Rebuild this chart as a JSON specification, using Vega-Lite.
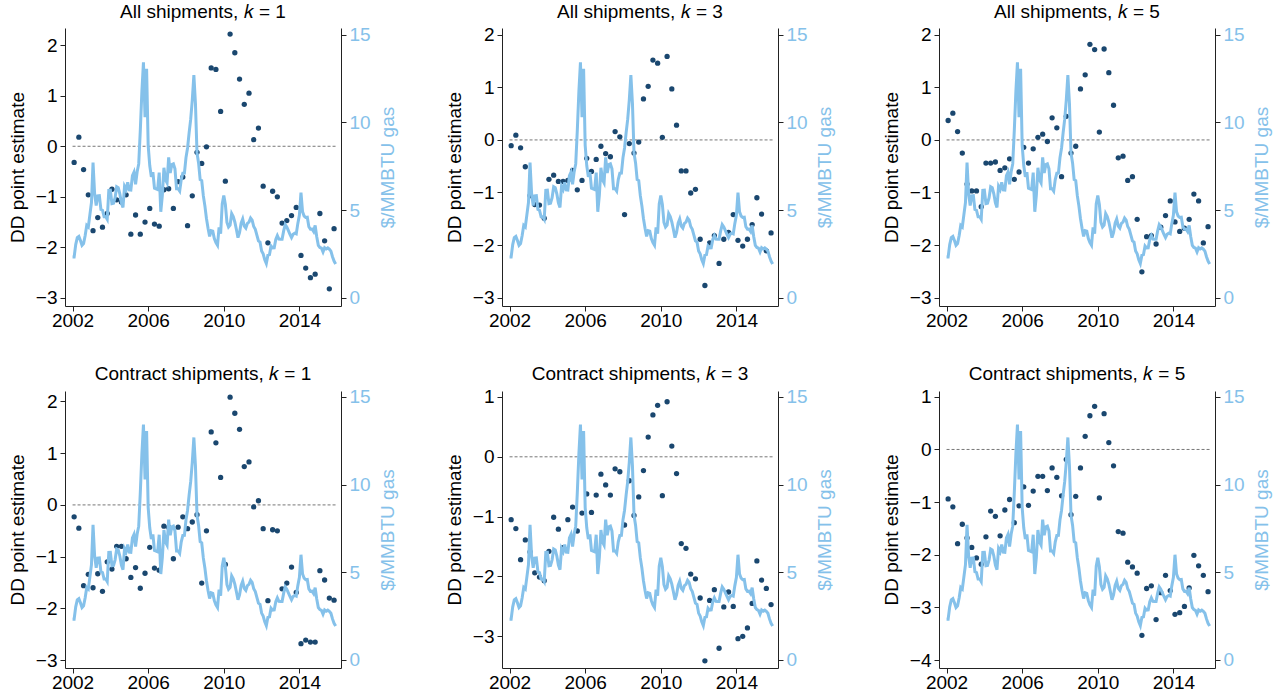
{
  "$schema": "https://vega.github.io/schema/vega-lite/v6.json",
  "padding": {"left": 8, "top": 2, "right": 5, "bottom": 5},
  "background": "white",
  "datasets": {
    "pts": [
      {"t":2002.083,"a1":-0.32,"a2":-0.11,"a3":0.37,"a4":-0.23,"a5":-1.05,"a6":-0.94},
      {"t":2002.333,"a1":0.18,"a2":0.09,"a3":0.51,"a4":-0.45,"a5":-1.20,"a6":-1.09},
      {"t":2002.583,"a1":-0.46,"a2":-0.15,"a3":0.16,"a4":-1.56,"a5":-1.72,"a6":-1.79},
      {"t":2002.833,"a1":-0.96,"a2":-0.51,"a3":-0.25,"a4":-1.34,"a5":-1.39,"a6":-1.42},
      {"t":2003.083,"a1":-1.67,"a2":-1.06,"a3":-0.84,"a4":-1.60,"a5":-1.59,"a6":-1.68},
      {"t":2003.333,"a1":-1.41,"a2":-1.23,"a3":-0.97,"a4":-1.33,"a5":-1.94,"a6":-1.86},
      {"t":2003.583,"a1":-1.60,"a2":-1.24,"a3":-0.97,"a4":-1.67,"a5":-2.01,"a6":-2.06},
      {"t":2003.833,"a1":-1.33,"a2":-1.49,"a3":-1.27,"a4":-1.10,"a5":-2.07,"a6":-2.18},
      {"t":2004.083,"a1":-0.85,"a2":-0.75,"a3":-0.44,"a4":-1.24,"a5":-1.58,"a6":-1.66},
      {"t":2004.333,"a1":-1.06,"a2":-0.67,"a3":-0.44,"a4":-0.80,"a5":-1.01,"a6":-1.17},
      {"t":2004.583,"a1":-1.10,"a2":-0.79,"a3":-0.42,"a4":-0.80,"a5":-1.21,"a6":-1.27},
      {"t":2004.833,"a1":-0.96,"a2":-0.79,"a3":-0.58,"a4":-1.04,"a5":-1.52,"a6":-1.64},
      {"t":2005.083,"a1":-1.74,"a2":-0.77,"a3":-0.53,"a4":-1.40,"a5":-1.05,"a6":-1.15},
      {"t":2005.333,"a1":-1.36,"a2":-0.58,"a3":-0.36,"a4":-1.21,"a5":-0.84,"a6":-0.95},
      {"t":2005.583,"a1":-1.74,"a2":-0.95,"a3":-0.75,"a4":-1.61,"a5":-1.24,"a6":-1.39},
      {"t":2005.833,"a1":-1.50,"a2":-0.77,"a3":-0.61,"a4":-1.32,"a5":-0.94,"a6":-1.07},
      {"t":2006.083,"a1":-1.23,"a2":-0.35,"a3":-0.14,"a4":-0.82,"a5":-0.62,"a6":-0.71},
      {"t":2006.333,"a1":-1.54,"a2":-0.60,"a3":-0.44,"a4":-1.22,"a5":-0.93,"a6":-1.06},
      {"t":2006.583,"a1":-1.58,"a2":-0.37,"a3":-0.17,"a4":-1.26,"a5":-0.64,"a6":-0.79},
      {"t":2006.833,"a1":-0.86,"a2":-0.12,"a3":0.05,"a4":-0.41,"a5":-0.29,"a6":-0.51},
      {"t":2007.083,"a1":-0.84,"a2":-0.26,"a3":0.11,"a4":-0.43,"a5":-0.47,"a6":-0.51},
      {"t":2007.333,"a1":-1.23,"a2":-0.32,"a3":-0.03,"a4":-1.04,"a5":-0.64,"a6":-0.78},
      {"t":2007.583,"a1":-0.70,"a2":0.16,"a3":0.42,"a4":-0.43,"a5":-0.20,"a6":-0.35},
      {"t":2007.833,"a1":-0.61,"a2":0.06,"a3":0.23,"a4":-0.23,"a5":-0.25,"a6":-0.53},
      {"t":2008.083,"a1":-1.57,"a2":-1.42,"a3":-0.70,"a4":-0.46,"a5":-1.14,"a6":-0.88},
      {"t":2008.333,"a1":-0.98,"a2":-0.07,"a3":0.45,"a4":-0.33,"a5":-0.40,"a6":-0.19},
      {"t":2008.583,"a1":-0.12,"a2":-0.25,"a3":-0.25,"a4":-0.19,"a5":-0.98,"a6":-1.24},
      {"t":2008.833,"a1":-0.34,"a2":-0.04,"a3":-0.12,"a4":-1.51,"a5":-0.67,"a6":-0.89},
      {"t":2009.083,"a1":-0.01,"a2":0.78,"a3":0.97,"a4":-0.50,"a5":-0.23,"a6":-0.35},
      {"t":2009.333,"a1":1.55,"a2":1.02,"a3":1.24,"a4":1.41,"a5":0.33,"a6":0.25},
      {"t":2009.583,"a1":1.52,"a2":1.52,"a3":1.82,"a4":1.20,"a5":0.70,"a6":0.64},
      {"t":2009.833,"a1":0.69,"a2":1.46,"a3":1.72,"a4":0.53,"a5":0.86,"a6":0.82},
      {"t":2010.083,"a1":-0.69,"a2":0.05,"a3":0.15,"a4":-1.15,"a5":-0.65,"a6":-0.92},
      {"t":2010.333,"a1":2.22,"a2":1.59,"a3":1.73,"a4":2.08,"a5":0.92,"a6":0.68},
      {"t":2010.583,"a1":1.85,"a2":0.97,"a3":1.28,"a4":1.77,"a5":0.18,"a6":0.13},
      {"t":2010.833,"a1":1.33,"a2":0.28,"a3":0.66,"a4":1.46,"a5":-0.28,"a6":-0.31},
      {"t":2011.083,"a1":0.83,"a2":-0.59,"a3":-0.34,"a4":0.74,"a5":-1.45,"a6":-1.56},
      {"t":2011.333,"a1":1.05,"a2":-0.59,"a3":-0.31,"a4":0.83,"a5":-1.53,"a6":-1.59},
      {"t":2011.583,"a1":0.13,"a2":-1.01,"a3":-0.77,"a4":-0.04,"a5":-1.96,"a6":-2.14},
      {"t":2011.833,"a1":0.36,"a2":-0.94,"a3":-0.70,"a4":0.08,"a5":-2.04,"a6":-2.23},
      {"t":2012.083,"a1":-0.79,"a2":-1.89,"a3":-1.51,"a4":-0.46,"a5":-2.36,"a6":-2.35},
      {"t":2012.333,"a1":-1.91,"a2":-2.77,"a3":-2.51,"a4":-1.85,"a5":-3.41,"a6":-3.53},
      {"t":2012.583,"a1":-0.89,"a2":-1.96,"a3":-1.84,"a4":-0.48,"a5":-2.40,"a6":-2.64},
      {"t":2012.833,"a1":-1.00,"a2":-1.82,"a3":-1.82,"a4":-0.50,"a5":-2.22,"a6":-2.59},
      {"t":2013.083,"a1":-1.52,"a2":-2.35,"a3":-1.98,"a4":-1.62,"a5":-3.20,"a6":-3.23},
      {"t":2013.333,"a1":-1.47,"a2":-1.89,"a3":-1.66,"a4":-1.51,"a5":-2.51,"a6":-2.72},
      {"t":2013.583,"a1":-1.37,"a2":-1.76,"a3":-1.44,"a4":-1.20,"a5":-2.26,"a6":-2.39},
      {"t":2013.833,"a1":-1.21,"a2":-1.42,"a3":-1.16,"a4":-1.69,"a5":-2.50,"a6":-2.68},
      {"t":2014.083,"a1":-2.16,"a2":-1.91,"a3":-1.56,"a4":-2.68,"a5":-3.04,"a6":-3.13},
      {"t":2014.333,"a1":-2.41,"a2":-2.02,"a3":-1.74,"a4":-2.61,"a5":-3.00,"a6":-3.10},
      {"t":2014.583,"a1":-2.60,"a2":-1.89,"a3":-1.68,"a4":-2.65,"a5":-2.86,"a6":-2.98},
      {"t":2014.833,"a1":-2.53,"a2":-1.61,"a3":-1.51,"a4":-2.65,"a5":-2.45,"a6":-2.63},
      {"t":2015.083,"a1":-1.33,"a2":-1.10,"a3":-1.03,"a4":-1.27,"a5":-1.74,"a6":-2.01},
      {"t":2015.333,"a1":-1.87,"a2":-1.41,"a3":-1.16,"a4":-1.45,"a5":-2.06,"a6":-2.21},
      {"t":2015.583,"a1":-2.82,"a2":-2.11,"a3":-1.96,"a4":-1.80,"a5":-2.20,"a6":-2.39},
      {"t":2015.833,"a1":-1.63,"a2":-1.77,"a3":-1.65,"a4":-1.84,"a5":-2.47,"a6":-2.70}
    ],
    "gas": [
      {"t":2002.000,"g":2.32},{"t":2002.083,"g":2.32},{"t":2002.167,"g":3.03},{"t":2002.250,"g":3.43},{"t":2002.333,"g":3.50},{"t":2002.417,"g":3.26},{"t":2002.500,"g":2.99},{"t":2002.583,"g":3.09},{"t":2002.667,"g":3.55},{"t":2002.750,"g":4.13},{"t":2002.833,"g":4.04},{"t":2002.917,"g":4.74},
      {"t":2003.000,"g":5.43},{"t":2003.083,"g":7.71},{"t":2003.167,"g":5.93},{"t":2003.250,"g":5.26},{"t":2003.333,"g":5.81},{"t":2003.417,"g":5.82},{"t":2003.500,"g":5.03},{"t":2003.583,"g":4.99},{"t":2003.667,"g":4.62},{"t":2003.750,"g":4.63},{"t":2003.833,"g":4.47},{"t":2003.917,"g":6.13},
      {"t":2004.000,"g":6.14},{"t":2004.083,"g":5.37},{"t":2004.167,"g":5.39},{"t":2004.250,"g":5.71},{"t":2004.333,"g":6.33},{"t":2004.417,"g":6.27},{"t":2004.500,"g":5.93},{"t":2004.583,"g":5.41},{"t":2004.667,"g":5.15},{"t":2004.750,"g":6.35},{"t":2004.833,"g":6.17},{"t":2004.917,"g":6.58},
      {"t":2005.000,"g":6.15},{"t":2005.083,"g":6.14},{"t":2005.167,"g":6.96},{"t":2005.250,"g":7.16},{"t":2005.333,"g":6.47},{"t":2005.417,"g":7.18},{"t":2005.500,"g":7.63},{"t":2005.583,"g":9.53},{"t":2005.667,"g":11.75},{"t":2005.750,"g":13.42},{"t":2005.833,"g":10.30},{"t":2005.917,"g":13.05},
      {"t":2006.000,"g":8.69},{"t":2006.083,"g":7.54},{"t":2006.167,"g":6.89},{"t":2006.250,"g":7.16},{"t":2006.333,"g":6.25},{"t":2006.417,"g":6.21},{"t":2006.500,"g":6.17},{"t":2006.583,"g":7.14},{"t":2006.667,"g":4.90},{"t":2006.750,"g":5.85},{"t":2006.833,"g":7.41},{"t":2006.917,"g":6.73},
      {"t":2007.000,"g":6.55},{"t":2007.083,"g":8.00},{"t":2007.167,"g":7.11},{"t":2007.250,"g":7.60},{"t":2007.333,"g":7.64},{"t":2007.417,"g":7.35},{"t":2007.500,"g":6.22},{"t":2007.583,"g":6.22},{"t":2007.667,"g":6.08},{"t":2007.750,"g":6.74},{"t":2007.833,"g":7.10},{"t":2007.917,"g":7.11},
      {"t":2008.000,"g":7.99},{"t":2008.083,"g":8.54},{"t":2008.167,"g":9.41},{"t":2008.250,"g":10.18},{"t":2008.333,"g":11.27},{"t":2008.417,"g":12.69},{"t":2008.500,"g":11.09},{"t":2008.583,"g":8.26},{"t":2008.667,"g":7.67},{"t":2008.750,"g":6.74},{"t":2008.833,"g":6.68},{"t":2008.917,"g":5.82},
      {"t":2009.000,"g":5.24},{"t":2009.083,"g":4.52},{"t":2009.167,"g":3.96},{"t":2009.250,"g":3.50},{"t":2009.333,"g":3.83},{"t":2009.417,"g":3.80},{"t":2009.500,"g":3.38},{"t":2009.583,"g":3.14},{"t":2009.667,"g":2.99},{"t":2009.750,"g":4.01},{"t":2009.833,"g":3.66},{"t":2009.917,"g":5.35},
      {"t":2010.000,"g":5.83},{"t":2010.083,"g":5.32},{"t":2010.167,"g":4.29},{"t":2010.250,"g":4.03},{"t":2010.333,"g":4.14},{"t":2010.417,"g":4.80},{"t":2010.500,"g":4.63},{"t":2010.583,"g":4.32},{"t":2010.667,"g":3.89},{"t":2010.750,"g":3.43},{"t":2010.833,"g":3.71},{"t":2010.917,"g":4.25},
      {"t":2011.000,"g":4.49},{"t":2011.083,"g":4.09},{"t":2011.167,"g":3.97},{"t":2011.250,"g":4.24},{"t":2011.333,"g":4.31},{"t":2011.417,"g":4.54},{"t":2011.500,"g":4.42},{"t":2011.583,"g":4.06},{"t":2011.667,"g":3.90},{"t":2011.750,"g":3.57},{"t":2011.833,"g":3.24},{"t":2011.917,"g":3.17},
      {"t":2012.000,"g":2.67},{"t":2012.083,"g":2.50},{"t":2012.167,"g":2.17},{"t":2012.250,"g":1.95},{"t":2012.333,"g":2.43},{"t":2012.417,"g":2.46},{"t":2012.500,"g":2.95},{"t":2012.583,"g":2.84},{"t":2012.667,"g":2.85},{"t":2012.750,"g":3.32},{"t":2012.833,"g":3.54},{"t":2012.917,"g":3.34},
      {"t":2013.000,"g":3.33},{"t":2013.083,"g":3.33},{"t":2013.167,"g":3.81},{"t":2013.250,"g":4.17},{"t":2013.333,"g":4.04},{"t":2013.417,"g":3.83},{"t":2013.500,"g":3.62},{"t":2013.583,"g":3.43},{"t":2013.667,"g":3.62},{"t":2013.750,"g":3.68},{"t":2013.833,"g":3.64},{"t":2013.917,"g":4.24},
      {"t":2014.000,"g":4.71},{"t":2014.083,"g":6.00},{"t":2014.167,"g":4.90},{"t":2014.250,"g":4.66},{"t":2014.333,"g":4.58},{"t":2014.417,"g":4.59},{"t":2014.500,"g":4.05},{"t":2014.583,"g":3.91},{"t":2014.667,"g":3.92},{"t":2014.750,"g":3.78},{"t":2014.833,"g":4.12},{"t":2014.917,"g":3.48},
      {"t":2015.000,"g":2.99},{"t":2015.083,"g":2.87},{"t":2015.167,"g":2.83},{"t":2015.250,"g":2.61},{"t":2015.333,"g":2.85},{"t":2015.417,"g":2.78},{"t":2015.500,"g":2.84},{"t":2015.583,"g":2.77},{"t":2015.667,"g":2.66},{"t":2015.750,"g":2.34},{"t":2015.833,"g":2.09},{"t":2015.917,"g":1.93}
    ]
  },
  "columns": 3,
  "spacing": {"row": 85, "column": 161},
  "bounds": "flush",
  "concat": [
    {
      "title": "All shipments, 𝑘 = 1",
      "width": 276, "height": 278,
      "layer": [
        {"layer": [
          {"data": {"values": [{}]}, "mark": {"type": "rule", "color": "#777", "strokeDash": [3, 2], "strokeWidth": 1},
           "encoding": {"y": {"datum": 0, "type": "quantitative", "scale": {"domain": [-3.16, 2.34], "nice": false, "zero": false}}, "x": {"datum": 2002, "type": "quantitative"}, "x2": {"datum": 2015.917}}},
          {"data": {"name": "pts"}, "mark": {"type": "circle", "color": "#1a476f", "opacity": 1, "size": 28},
           "encoding": {
             "x": {"field": "t", "type": "quantitative", "scale": {"domain": [2001.6, 2016.2], "nice": false, "zero": false}, "axis": {"values": [2002, 2006, 2010, 2014], "format": "d", "title": null, "labelPadding": 0}},
             "y": {"field": "a1", "type": "quantitative", "scale": {"domain": [-3.16, 2.34], "nice": false, "zero": false}, "axis": {"orient": "left", "values": [-3, -2, -1, 0, 1, 2], "format": "d", "title": "DD point estimate"}}}}
        ]},
        {"data": {"name": "gas"}, "mark": {"type": "line", "color": "#85c1ea", "strokeWidth": 3},
         "encoding": {"x": {"field": "t", "type": "quantitative"},
           "y": {"field": "g", "type": "quantitative", "scale": {"domain": [-0.47, 15.38], "nice": false, "zero": false}, "axis": {"orient": "right", "values": [0, 5, 10, 15], "title": "$/MMBTU gas", "labelColor": "#85c1ea", "titleColor": "#85c1ea", "titleAngle": 270, "titleBaseline": "top"}}}}
      ],
      "resolve": {"scale": {"y": "independent"}}
    },
    {
      "title": "All shipments, 𝑘 = 3",
      "width": 276, "height": 278,
      "layer": [
        {"layer": [
          {"data": {"values": [{}]}, "mark": {"type": "rule", "color": "#777", "strokeDash": [3, 2], "strokeWidth": 1},
           "encoding": {"y": {"datum": 0, "type": "quantitative", "scale": {"domain": [-3.16, 2.13], "nice": false, "zero": false}}, "x": {"datum": 2002, "type": "quantitative"}, "x2": {"datum": 2015.917}}},
          {"data": {"name": "pts"}, "mark": {"type": "circle", "color": "#1a476f", "opacity": 1, "size": 28},
           "encoding": {
             "x": {"field": "t", "type": "quantitative", "scale": {"domain": [2001.6, 2016.2], "nice": false, "zero": false}, "axis": {"values": [2002, 2006, 2010, 2014], "format": "d", "title": null, "labelPadding": 0}},
             "y": {"field": "a2", "type": "quantitative", "scale": {"domain": [-3.16, 2.13], "nice": false, "zero": false}, "axis": {"orient": "left", "values": [-3, -2, -1, 0, 1, 2], "format": "d", "title": "DD point estimate"}}}}
        ]},
        {"data": {"name": "gas"}, "mark": {"type": "line", "color": "#85c1ea", "strokeWidth": 3},
         "encoding": {"x": {"field": "t", "type": "quantitative"},
           "y": {"field": "g", "type": "quantitative", "scale": {"domain": [-0.47, 15.38], "nice": false, "zero": false}, "axis": {"orient": "right", "values": [0, 5, 10, 15], "title": "$/MMBTU gas", "labelColor": "#85c1ea", "titleColor": "#85c1ea", "titleAngle": 270, "titleBaseline": "top"}}}}
      ],
      "resolve": {"scale": {"y": "independent"}}
    },
    {
      "title": "All shipments, 𝑘 = 5",
      "width": 276, "height": 278,
      "layer": [
        {"layer": [
          {"data": {"values": [{}]}, "mark": {"type": "rule", "color": "#777", "strokeDash": [3, 2], "strokeWidth": 1},
           "encoding": {"y": {"datum": 0, "type": "quantitative", "scale": {"domain": [-3.16, 2.13], "nice": false, "zero": false}}, "x": {"datum": 2002, "type": "quantitative"}, "x2": {"datum": 2015.917}}},
          {"data": {"name": "pts"}, "mark": {"type": "circle", "color": "#1a476f", "opacity": 1, "size": 28},
           "encoding": {
             "x": {"field": "t", "type": "quantitative", "scale": {"domain": [2001.6, 2016.2], "nice": false, "zero": false}, "axis": {"values": [2002, 2006, 2010, 2014], "format": "d", "title": null, "labelPadding": 0}},
             "y": {"field": "a3", "type": "quantitative", "scale": {"domain": [-3.16, 2.13], "nice": false, "zero": false}, "axis": {"orient": "left", "values": [-3, -2, -1, 0, 1, 2], "format": "d", "title": "DD point estimate"}}}}
        ]},
        {"data": {"name": "gas"}, "mark": {"type": "line", "color": "#85c1ea", "strokeWidth": 3},
         "encoding": {"x": {"field": "t", "type": "quantitative"},
           "y": {"field": "g", "type": "quantitative", "scale": {"domain": [-0.47, 15.38], "nice": false, "zero": false}, "axis": {"orient": "right", "values": [0, 5, 10, 15], "title": "$/MMBTU gas", "labelColor": "#85c1ea", "titleColor": "#85c1ea", "titleAngle": 270, "titleBaseline": "top"}}}}
      ],
      "resolve": {"scale": {"y": "independent"}}
    },
    {
      "title": "Contract shipments, 𝑘 = 1",
      "width": 276, "height": 277,
      "layer": [
        {"layer": [
          {"data": {"values": [{}]}, "mark": {"type": "rule", "color": "#777", "strokeDash": [3, 2], "strokeWidth": 1},
           "encoding": {"y": {"datum": 0, "type": "quantitative", "scale": {"domain": [-3.15, 2.2], "nice": false, "zero": false}}, "x": {"datum": 2002, "type": "quantitative"}, "x2": {"datum": 2015.917}}},
          {"data": {"name": "pts"}, "mark": {"type": "circle", "color": "#1a476f", "opacity": 1, "size": 28},
           "encoding": {
             "x": {"field": "t", "type": "quantitative", "scale": {"domain": [2001.6, 2016.2], "nice": false, "zero": false}, "axis": {"values": [2002, 2006, 2010, 2014], "format": "d", "title": null, "labelPadding": 0}},
             "y": {"field": "a4", "type": "quantitative", "scale": {"domain": [-3.15, 2.2], "nice": false, "zero": false}, "axis": {"orient": "left", "values": [-3, -2, -1, 0, 1, 2], "format": "d", "title": "DD point estimate"}}}}
        ]},
        {"data": {"name": "gas"}, "mark": {"type": "line", "color": "#85c1ea", "strokeWidth": 3},
         "encoding": {"x": {"field": "t", "type": "quantitative"},
           "y": {"field": "g", "type": "quantitative", "scale": {"domain": [-0.46, 15.34], "nice": false, "zero": false}, "axis": {"orient": "right", "values": [0, 5, 10, 15], "title": "$/MMBTU gas", "labelColor": "#85c1ea", "titleColor": "#85c1ea", "titleAngle": 270, "titleBaseline": "top"}}}}
      ],
      "resolve": {"scale": {"y": "independent"}}
    },
    {
      "title": "Contract shipments, 𝑘 = 3",
      "width": 276, "height": 277,
      "layer": [
        {"layer": [
          {"data": {"values": [{}]}, "mark": {"type": "rule", "color": "#777", "strokeDash": [3, 2], "strokeWidth": 1},
           "encoding": {"y": {"datum": 0, "type": "quantitative", "scale": {"domain": [-3.53, 1.1], "nice": false, "zero": false}}, "x": {"datum": 2002, "type": "quantitative"}, "x2": {"datum": 2015.917}}},
          {"data": {"name": "pts"}, "mark": {"type": "circle", "color": "#1a476f", "opacity": 1, "size": 28},
           "encoding": {
             "x": {"field": "t", "type": "quantitative", "scale": {"domain": [2001.6, 2016.2], "nice": false, "zero": false}, "axis": {"values": [2002, 2006, 2010, 2014], "format": "d", "title": null, "labelPadding": 0}},
             "y": {"field": "a5", "type": "quantitative", "scale": {"domain": [-3.53, 1.1], "nice": false, "zero": false}, "axis": {"orient": "left", "values": [-3, -2, -1, 0, 1], "format": "d", "title": "DD point estimate"}}}}
        ]},
        {"data": {"name": "gas"}, "mark": {"type": "line", "color": "#85c1ea", "strokeWidth": 3},
         "encoding": {"x": {"field": "t", "type": "quantitative"},
           "y": {"field": "g", "type": "quantitative", "scale": {"domain": [-0.46, 15.34], "nice": false, "zero": false}, "axis": {"orient": "right", "values": [0, 5, 10, 15], "title": "$/MMBTU gas", "labelColor": "#85c1ea", "titleColor": "#85c1ea", "titleAngle": 270, "titleBaseline": "top"}}}}
      ],
      "resolve": {"scale": {"y": "independent"}}
    },
    {
      "title": "Contract shipments, 𝑘 = 5",
      "width": 276, "height": 277,
      "layer": [
        {"layer": [
          {"data": {"values": [{}]}, "mark": {"type": "rule", "color": "#777", "strokeDash": [3, 2], "strokeWidth": 1},
           "encoding": {"y": {"datum": 0, "type": "quantitative", "scale": {"domain": [-4.15, 1.11], "nice": false, "zero": false}}, "x": {"datum": 2002, "type": "quantitative"}, "x2": {"datum": 2015.917}}},
          {"data": {"name": "pts"}, "mark": {"type": "circle", "color": "#1a476f", "opacity": 1, "size": 28},
           "encoding": {
             "x": {"field": "t", "type": "quantitative", "scale": {"domain": [2001.6, 2016.2], "nice": false, "zero": false}, "axis": {"values": [2002, 2006, 2010, 2014], "format": "d", "title": null, "labelPadding": 0}},
             "y": {"field": "a6", "type": "quantitative", "scale": {"domain": [-4.15, 1.11], "nice": false, "zero": false}, "axis": {"orient": "left", "values": [-4, -3, -2, -1, 0, 1], "format": "d", "title": "DD point estimate"}}}}
        ]},
        {"data": {"name": "gas"}, "mark": {"type": "line", "color": "#85c1ea", "strokeWidth": 3},
         "encoding": {"x": {"field": "t", "type": "quantitative"},
           "y": {"field": "g", "type": "quantitative", "scale": {"domain": [-0.46, 15.34], "nice": false, "zero": false}, "axis": {"orient": "right", "values": [0, 5, 10, 15], "title": "$/MMBTU gas", "labelColor": "#85c1ea", "titleColor": "#85c1ea", "titleAngle": 270, "titleBaseline": "top"}}}}
      ],
      "resolve": {"scale": {"y": "independent"}}
    }
  ],
  "config": {
    "font": "Liberation Sans",
    "view": {"stroke": null},
    "axis": {"grid": false, "labelFontSize": 19, "titleFontSize": 19, "titleFontWeight": "normal", "labelColor": "#000", "titleColor": "#000", "domainColor": "#222", "tickColor": "#222", "tickSize": 5, "labelPadding": 3, "titlePadding": 8, "labelFont": "Liberation Sans", "titleFont": "Liberation Sans", "labelFlush": false, "labelOverlap": false},
    "title": {"fontSize": 19, "fontWeight": "normal", "font": "Liberation Sans", "color": "#000", "anchor": "middle", "frame": "group", "offset": 4}
  }
}
